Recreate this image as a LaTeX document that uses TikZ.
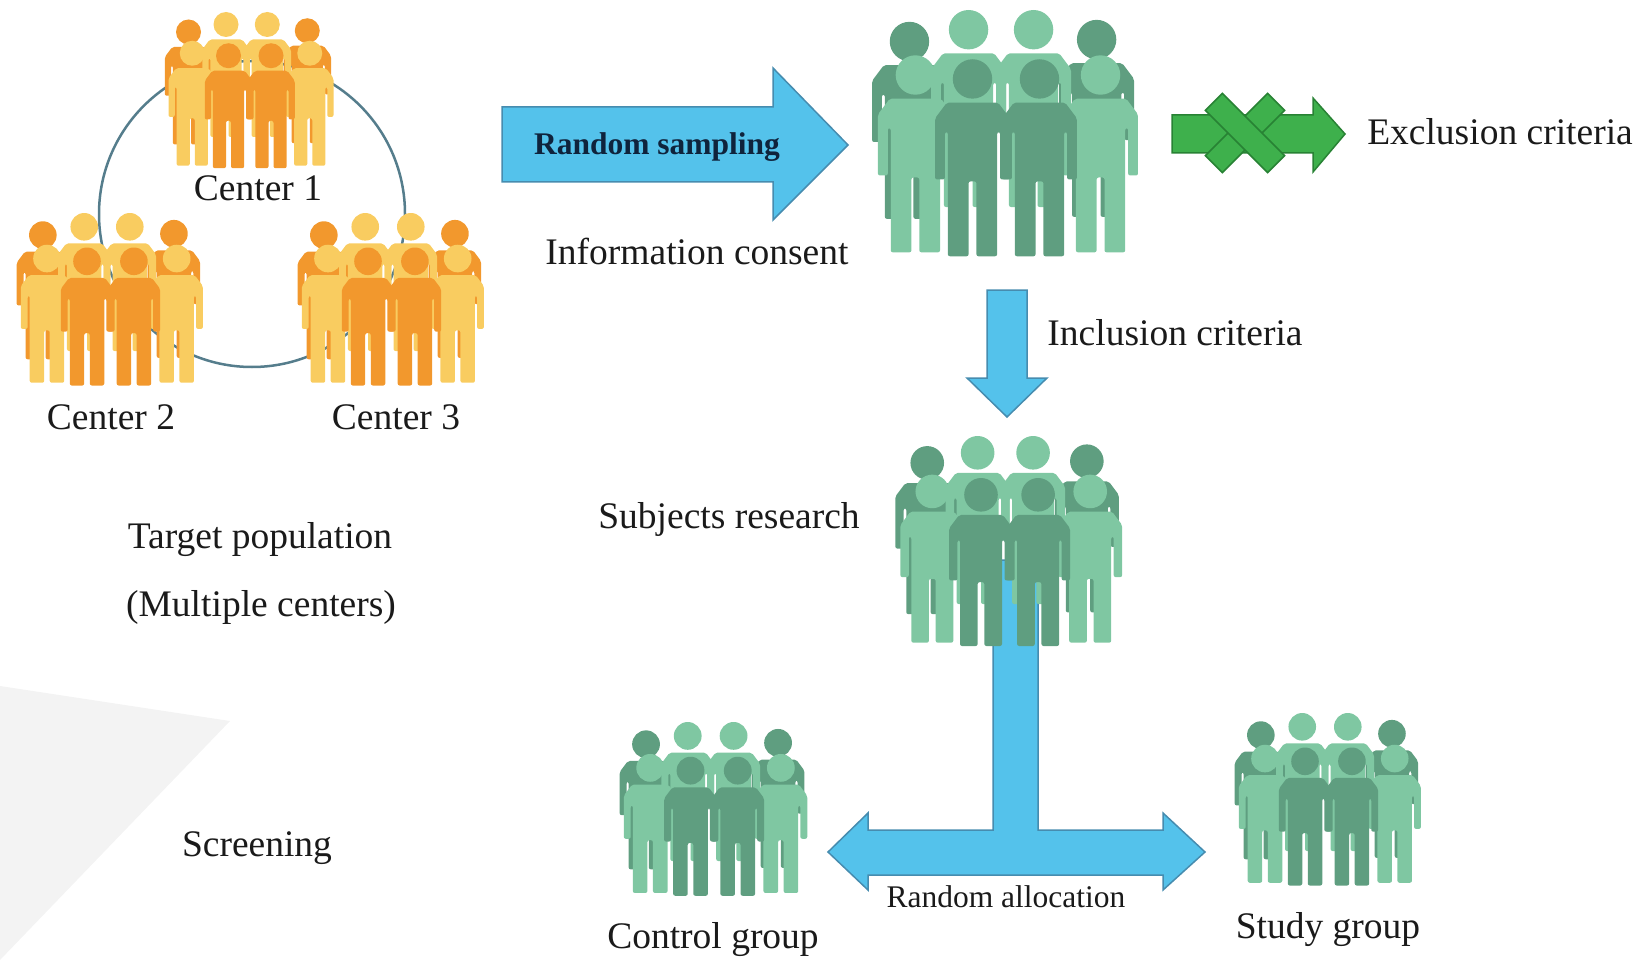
\documentclass[tikz,border=0pt]{standalone}
\usepackage{fontspec}
\setmainfont{Liberation Serif}
\definecolor{txt}{RGB}{26,26,26}
\definecolor{navy}{RGB}{15,35,60}
\definecolor{skyfill}{RGB}{84,194,235}
\definecolor{skyline}{RGB}{70,140,175}
\definecolor{grfill}{RGB}{62,176,76}
\definecolor{grline}{RGB}{40,130,52}
\definecolor{orDark}{RGB}{242,152,45}
\definecolor{orLight}{RGB}{249,204,96}
\definecolor{gnDark}{RGB}{95,158,128}
\definecolor{gnLight}{RGB}{127,199,162}
\definecolor{ringcol}{RGB}{85,125,140}
\definecolor{wmgray}{RGB}{243,243,243}
% one standing figure, head top at (#1,#2), 100 units tall, colour #3
\newcommand\personat[3]{%
  \begin{scope}[shift={(#1,#2)}]
    \fill[#3] (0,10) circle[radius=10];
    \fill[#3, rounded corners=2] (-19,61) -- (-19,30) -- (-13,22) -- (13,22)
      -- (19,30) -- (19,61) -- (14,61) -- (14,37) -- (12.5,37) -- (12.5,100)
      -- (2,100) -- (2,62) -- (-2,62) -- (-2,100) -- (-12.5,100) -- (-12.5,37)
      -- (-14,37) -- (-14,61) -- cycle;
  \end{scope}}
\tikzset{
  % a group of eight figures in two rows
  pics/crowd/.style 2 args={code={
    \personat{18}{6}{#1}
    \personat{113}{5}{#1}
    \personat{48}{0}{#2}
    \personat{81}{0}{#2}
    \personat{21}{23}{#2}
    \personat{115}{23}{#2}
    \personat{50}{25}{#1}
    \personat{84}{25}{#1}
  }},
  lbl/.style={font=\fontsize{37.5}{40}\selectfont, text=txt, inner sep=0pt},
  small/.style={font=\fontsize{31.5}{34}\selectfont, text=txt, inner sep=0pt},
  blockarrow/.style={fill=skyfill, draw=skyline, line width=1.5pt, line join=miter},
  xarrow/.style={fill=grfill, draw=grline, line width=1.5pt},
  ring/.style={draw=ringcol, line width=2.5pt},
}
\begin{document}
\begin{tikzpicture}[x=1pt,y=-1pt]
\useasboundingbox (0,0) rectangle (1645,960);

% faint background wedge
\fill[wmgray] (0,686) -- (230,721) -- (0,960) -- cycle;

% ---- target population: three centres on a ring ----
\coordinate (ringc) at (252,214);
\draw[ring] (ringc) circle[radius=153];
\pic[scale=1.25] (c1) at (166,12) {crowd={orDark}{orLight}};
\pic[scale=1.38] (c2) at (18,213) {crowd={orDark}{orLight}};
\pic[scale=1.38] (c3) at (299,213) {crowd={orDark}{orLight}};
\node[lbl] (lc1) at (258,188) {Center 1};
\node[lbl] (lc2) at (111,417) {Center 2};
\node[lbl] (lc3) at (396,417) {Center 3};
\node[lbl] (tp) at (260,540) {Target population};
\node[lbl] (mc) at (261,607) {(Multiple centers)};
\node[lbl] (scr) at (257,848) {Screening};

% ---- random sampling arrow ----
\draw[blockarrow] (502,107) -- (773,107) -- (773,68) -- (848,145) -- (773,220)
  -- (773,182) -- (502,182) -- cycle;
\node[font=\bfseries\fontsize{31.5}{34}\selectfont, text=navy, inner sep=0pt]
  (rs) at (657,147) {Random sampling};
\node[lbl] (ic) at (697,251) {Information consent};

% ---- consenting subjects ----
\pic[scale=1.97] (pool) at (874,10) {crowd={gnDark}{gnLight}};

% ---- exclusion arrow with cross ----
\draw[xarrow] (1172,115) -- (1313,115) -- (1313,98) -- (1345,134) -- (1313,172)
  -- (1313,153) -- (1172,153) -- cycle;
\begin{scope}[shift={(1245,133)}]
  \draw[xarrow, rotate=45] (-44,-12) rectangle (44,12);
  \draw[xarrow, rotate=-45] (-44,-12) rectangle (44,12);
  \fill[grfill, rotate=45] (-10,-10.5) rectangle (10,10.5);
\end{scope}
\node[lbl] (ex) at (1500,132) {Exclusion criteria};

% ---- inclusion arrow ----
\draw[blockarrow] (987,290) -- (1027,290) -- (1027,378) -- (1047,378) -- (1007,417)
  -- (967,378) -- (987,378) -- cycle;
\node[lbl] (inc) at (1175,333) {Inclusion criteria};

% ---- allocation arrow (stem runs behind the research subjects) ----
\draw[blockarrow] (993,560) -- (1038,560) -- (1038,830) -- (1163,830) -- (1163,813)
  -- (1205,852) -- (1163,890) -- (1163,875) -- (868,875) -- (868,890) -- (828,852)
  -- (868,813) -- (868,830) -- (993,830) -- cycle;
\node[small] (ra) at (1006,897) {Random allocation};

% ---- research subjects and the two arms ----
\pic[scale=1.68] (subj) at (897,436) {crowd={gnDark}{gnLight}};
\node[lbl] (sr) at (729,519) {Subjects research};
\pic[scale=1.39] (ctrl) at (621,722) {crowd={gnDark}{gnLight}};
\node[lbl] (cg) at (713,940) {Control group};
\pic[scale=1.38] (stdy) at (1236,713) {crowd={gnDark}{gnLight}};
\node[lbl] (sg) at (1328,930) {Study group};
\end{tikzpicture}
\end{document}
